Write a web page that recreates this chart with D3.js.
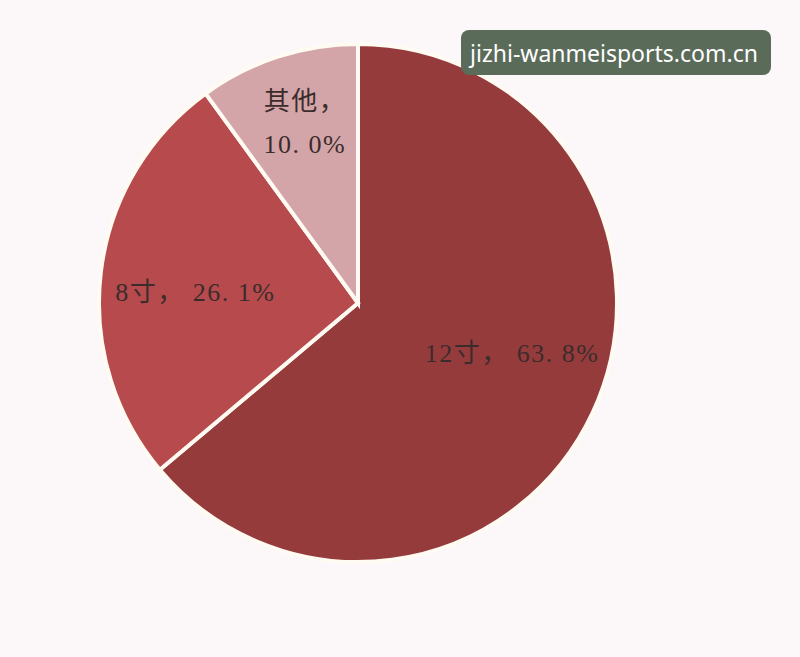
<!DOCTYPE html>
<html>
<head>
<meta charset="utf-8">
<script src="https://cdn.jsdelivr.net/npm/d3@7/dist/d3.min.js"></script>
<style>
  html, body { margin: 0; padding: 0; background: #fcf8fa; }
  svg { display: block; }
</style>
</head>
<body>
<script>
const categories = ["12寸", "8寸", "其他"];
const values = [63.8, 26.1, 10.0];
const colors = ["#963b3c", "#b64a4c", "#d4a5a8"];
const watermark = "jizhi-wanmeisports.com.cn";

const W = 800, H = 657;
const cx = 358, cy = 303, R = 259;

const svg = d3.select("body").append("svg").attr("width", W).attr("height", H);
svg.append("rect").attr("width", W).attr("height", H).attr("fill", "#fcf8fa");

const pie = d3.pie().sort(null).value(d => d)(values);
const arc = d3.arc().innerRadius(0).outerRadius(R);

const g = svg.append("g").attr("transform", `translate(${cx},${cy})`);
g.selectAll("path.slice").data(pie).enter().append("path")
  .attr("class", "slice")
  .attr("d", arc)
  .attr("fill", (d, i) => colors[i])
  .attr("stroke", "#fffaf2")
  .attr("stroke-width", 4)
  .attr("stroke-linejoin", "miter");

// labels
const labelRadius = [162, 163, 196];
const fontFam = "'Liberation Serif','DejaVu Serif','Noto Sans CJK SC',serif";
pie.forEach((d, i) => {
  const a = (d.startAngle + d.endAngle) / 2 + (i === 0 ? -0.12 : (i === 2 ? 0.04 : -0.05));
  const r = labelRadius[i];
  const x = Math.sin(a) * r, y = -Math.cos(a) * r;
  const t = g.append("text")
    .attr("x", x).attr("y", y)
    .attr("text-anchor", "middle")
    .attr("font-family", fontFam)
    .attr("font-size", 26)
    .attr("letter-spacing", 1.5)
    .attr("fill", "#3b2c2c");
  const pct = values[i].toFixed(1).replace(".", ". ") + "%";
  if (i === 2) {
    t.append("tspan").attr("x", x).attr("dy", "-0.15em").text(categories[i] + "，");
    t.append("tspan").attr("x", x).attr("dy", "1.65em").text(pct);
  } else {
    t.attr("dy", "0.35em").text(categories[i] + "， " + pct);
  }
});

// watermark
const wm = svg.append("g");
wm.append("rect").attr("x", 461).attr("y", 30).attr("width", 310).attr("height", 45)
  .attr("rx", 8).attr("fill", "#5b6b5a");
wm.append("text").attr("x", 614).attr("y", 62).attr("text-anchor", "middle")
  .attr("font-family", "'Noto Sans','Open Sans',sans-serif").attr("font-size", 23)
  .attr("fill", "#ffffff").text(watermark);
</script>
</body>
</html>
